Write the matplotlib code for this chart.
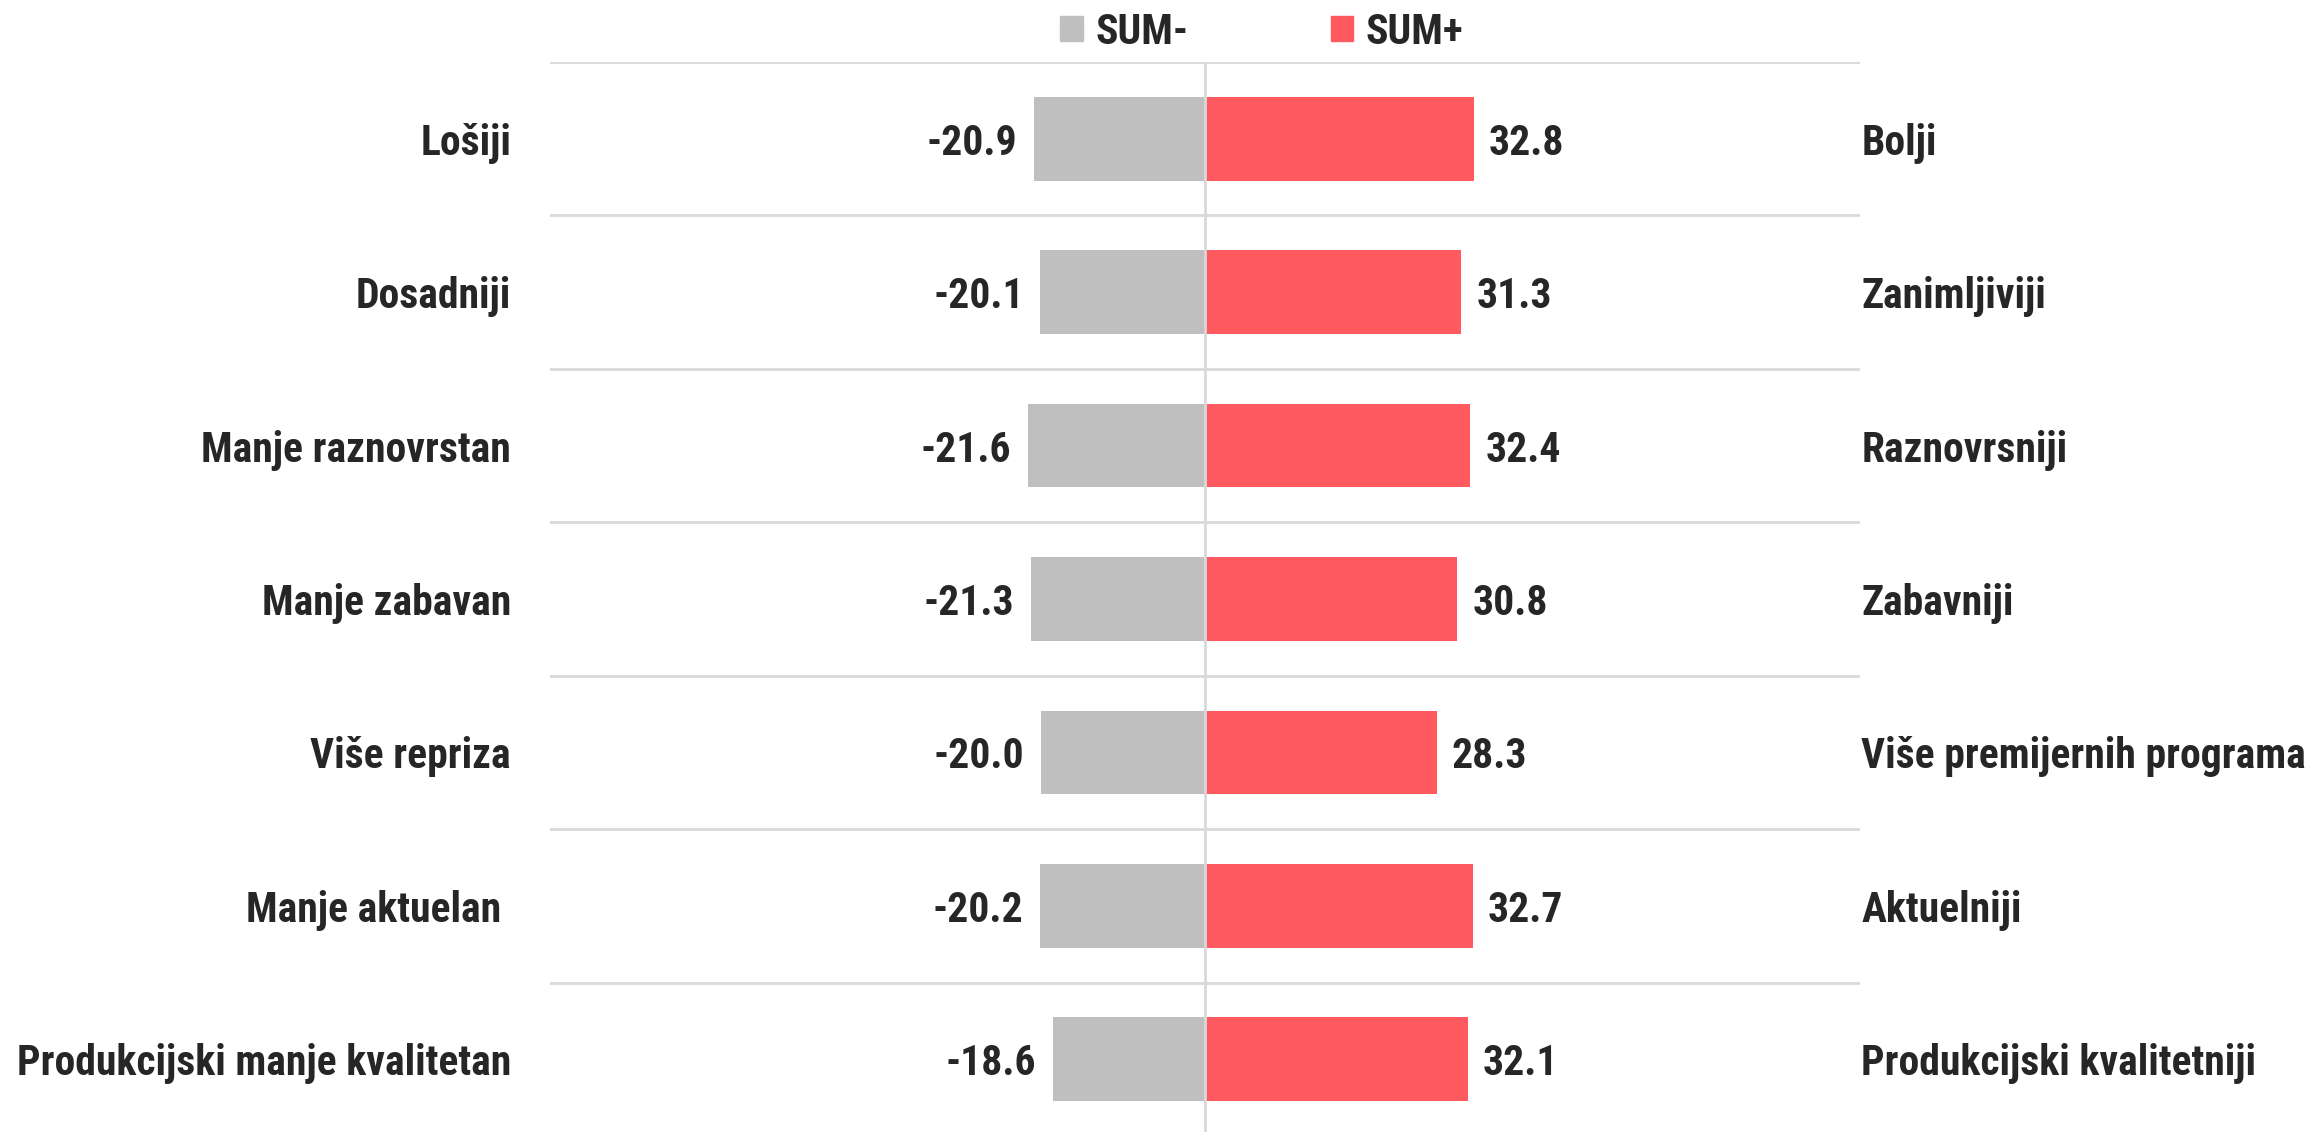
import matplotlib.pyplot as plt
from matplotlib.patches import Patch

# ================================
# DATA
# ================================
labels_left = ["Lošiji", "Dosadniji", "Manje raznovrstan", "Manje zabavan",
               "Više repriza", "Manje aktuelan ", "Produkcijski manje kvalitetan"]
labels_right = ["Bolji", "Zanimljiviji", "Raznovrsniji", "Zabavniji",
                "Više premijernih programa", "Aktuelniji", "Produkcijski kvalitetniji"]
sum_minus = [-20.9, -20.1, -21.6, -21.3, -20.0, -20.2, -18.6]
sum_plus = [32.8, 31.3, 32.4, 30.8, 28.3, 32.7, 32.1]
series_names = ["SUM-", "SUM+"]

# ================================
# STYLE
# ================================
plt.rcParams["font.family"] = ["Roboto Condensed", "DejaVu Sans"]
plt.rcParams["font.weight"] = "bold"

GRAY = "#bfbfbf"
RED = "#ff5a5f"
TXT = "#262626"
GRID = "#d9d9d9"
FS = 30

W, H = 2311, 1132
fig = plt.figure(figsize=(W / 100, H / 100), dpi=100)
ax = fig.add_axes([550 / W, -4 / H, 1310 / W, (H - 62 + 4) / H])

ypos = list(range(len(labels_left)))
ax.barh(ypos, sum_minus, height=0.545, color=GRAY, label=series_names[0], zorder=2)
ax.barh(ypos, sum_plus, height=0.545, color=RED, label=series_names[1], zorder=2)

ax.set_xlim(-80, 80)
ax.set_ylim(len(ypos) - 0.5, -0.5)

# row separators and zero line
for b in range(len(ypos)):
    ax.axhline(b - 0.5, color=GRID, lw=2, zorder=1)
ax.axvline(0, color=GRID, lw=2, zorder=3)

# value labels next to the bars
for y, v in zip(ypos, sum_minus):
    ax.annotate(f"{v:.1f}", (v, y), xytext=(-12, 0), textcoords="offset points",
                ha="right", va="center_baseline", fontsize=FS, color=TXT, fontweight="bold")
for y, v in zip(ypos, sum_plus):
    ax.annotate(f"{v:.1f}", (v, y), xytext=(11, 0), textcoords="offset points",
                ha="left", va="center_baseline", fontsize=FS, color=TXT, fontweight="bold")

# category labels on both sides
ax.set_yticks(ypos)
ax.set_yticklabels(labels_left, fontsize=FS, color=TXT, fontweight="bold")
ax.tick_params(axis="y", length=0, pad=28)
ax.set_xticks([])

ax2 = ax.twinx()
ax2.set_ylim(ax.get_ylim())
ax2.set_yticks(ypos)
ax2.set_yticklabels(labels_right, fontsize=FS, color=TXT, fontweight="bold")
ax2.tick_params(axis="y", length=0, pad=1)

for a in (ax, ax2):
    for s in a.spines.values():
        s.set_visible(False)

handles = [Patch(color=GRAY, label=series_names[0]), Patch(color=RED, label=series_names[1])]
leg = fig.legend(handles=handles, loc="center", bbox_to_anchor=(1262 / W, 1 - 32 / H), ncol=2,
                 frameon=False, handlelength=0.55, handleheight=0.55,
                 handletextpad=0.3, columnspacing=3.4, prop={"weight": "bold", "size": FS})
for t in leg.get_texts():
    t.set_color(TXT)

fig.savefig("out.png", dpi=100)
